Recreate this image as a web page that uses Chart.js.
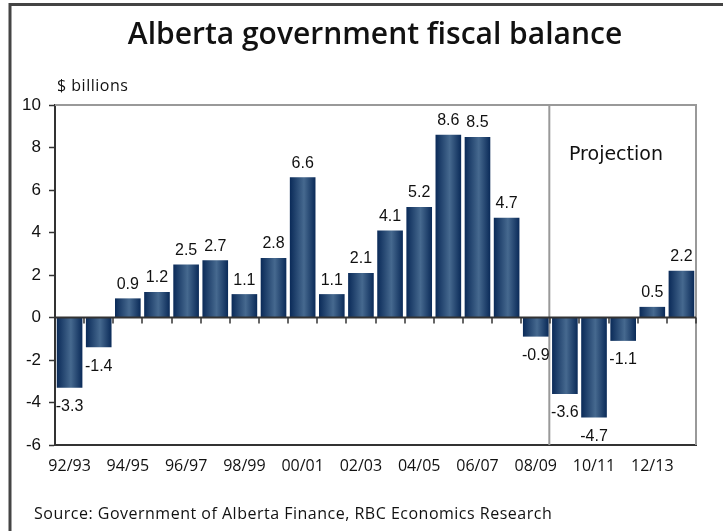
<!DOCTYPE html>
<html>
<head>
<meta charset="utf-8">
<script src="https://cdn.jsdelivr.net/npm/chart.js@4/dist/chart.umd.min.js"></script>
<style>
  html, body { margin: 0; padding: 0; background: #fff; }
  #wrap { width: 723px; height: 531px; }
</style>
</head>
<body>
<div id="wrap"><canvas id="fiscalChart" width="723" height="531"></canvas></div>
<script>
// fiscal years 1992/93 .. 2013/14
const years = ["92/93", "93/94", "94/95", "95/96", "96/97", "97/98", "98/99", "99/00",
    "00/01", "01/02", "02/03", "03/04", "04/05", "05/06", "06/07", "07/08",
    "08/09", "09/10", "10/11", "11/12", "12/13", "13/14"];

// balance, $ billions
const balance = [-3.3, -1.4, 0.9, 1.2, 2.5, 2.7, 1.1, 2.8, 6.6, 1.1, 2.1, 4.1,
    5.2, 8.6, 8.5, 4.7, -0.9, -3.6, -4.7, -1.1, 0.5, 2.2];

// projection starts at this index
const firstProjection = 17;

const titleText = "Alberta government fiscal balance";
const unitText = "$ billions";
const sourceText = "Source: Government of Alberta Finance, RBC Economics Research";

const AXIS = "#333333";
const FRAME = "#999999";
const TALL = "'Open Sans', 'DejaVu Sans', sans-serif";
const ARIAL = "'Liberation Sans', Arial, sans-serif";

// horizontal gradient, dark at the bar edges and lighter inside
function barFill(context) {
    const chart = context.chart;
    const x = chart.scales.x;
    if (!chart.chartArea || !x) return "#1f4374";
    const cx = x.getPixelForValue(context.dataIndex);
    const half = x.width / years.length * 0.88 / 2;
    const g = chart.ctx.createLinearGradient(cx - half, 0, cx + half, 0);
    g.addColorStop(0, "#0a2a58");
    g.addColorStop(0.55, "#46698f");
    g.addColorStop(1, "#0a2a58");
    return g;
}

const decorations = {
    id: "decorations",
    beforeDatasetsDraw(chart) {
        const { ctx, chartArea: a, scales: { x } } = chart;
        ctx.save();
        ctx.strokeStyle = FRAME;
        ctx.lineWidth = 2;
        // top and right edges of the plot
        ctx.beginPath();
        ctx.moveTo(a.left, a.top);
        ctx.lineTo(a.right, a.top);
        ctx.lineTo(a.right, a.bottom);
        ctx.stroke();
        // line marking the projection years
        const sx = (x.getPixelForValue(firstProjection - 1) + x.getPixelForValue(firstProjection)) / 2 - 1;
        ctx.beginPath();
        ctx.moveTo(sx, a.top);
        ctx.lineTo(sx, a.bottom);
        ctx.stroke();
        ctx.restore();
    },
    afterDatasetsDraw(chart) {
        const { ctx, chartArea: a, scales: { x, y } } = chart;
        const zero = y.getPixelForValue(0);
        const step = x.width / years.length;
        ctx.save();
        // zero line with its tick marks
        ctx.strokeStyle = AXIS;
        ctx.lineWidth = 2;
        ctx.beginPath();
        ctx.moveTo(a.left, zero);
        ctx.lineTo(a.right, zero);
        ctx.stroke();
        ctx.lineWidth = 1.5;
        for (let i = 1; i <= years.length; i++) {
            const tx = Math.round(a.left + i * step);
            ctx.beginPath();
            ctx.moveTo(tx, zero);
            ctx.lineTo(tx, zero + 6);
            ctx.stroke();
        }

        // value labels
        ctx.fillStyle = "#111";
        ctx.font = "16px " + ARIAL;
        ctx.textAlign = "center";
        chart.getDatasetMeta(0).data.forEach((bar, i) => {
            const v = balance[i];
            const label = v.toFixed(1);
            if (v >= 0) {
                ctx.textBaseline = "bottom";
                ctx.fillText(label, bar.x, bar.y - 6);
            } else {
                ctx.textBaseline = "top";
                ctx.fillText(label, bar.x, bar.y + 11);
            }
        });
        ctx.restore();
    },
    afterDraw(chart) {
        const { ctx } = chart;
        ctx.save();
        // outer frame
        ctx.strokeStyle = "#444";
        ctx.lineWidth = 3;
        ctx.beginPath();
        ctx.moveTo(10, 531);
        ctx.lineTo(10, 4.5);
        ctx.lineTo(723, 4.5);
        ctx.stroke();

        ctx.fillStyle = "#111";
        ctx.textBaseline = "alphabetic";
        ctx.textAlign = "center";
        ctx.font = "600 30px " + TALL;
        ctx.fillText(titleText, 375, 44);

        ctx.textAlign = "left";
        ctx.letterSpacing = "0.5px";
        ctx.font = "16px " + TALL;
        ctx.fillText(unitText, 57, 91);
        ctx.fillText(sourceText, 34, 519);
        ctx.letterSpacing = "0px";

        ctx.font = "19px 'DejaVu Sans', sans-serif";
        ctx.fillText("Projection", 569, 160);
        ctx.restore();
    }
};

new Chart(document.getElementById("fiscalChart"), {
    type: "bar",
    data: {
        labels: years,
        datasets: [{
            data: balance,
            backgroundColor: barFill,
            borderWidth: 0,
            barPercentage: 0.88,
            categoryPercentage: 1
        }]
    },
    options: {
        responsive: false,
        animation: false,
        layout: {
            padding: { left: 0, top: 105, right: 27, bottom: 0 }
        },
        plugins: {
            legend: { display: false },
            title: { display: false },
            tooltip: { enabled: false }
        },
        scales: {
            x: {
                grid: { display: false, drawTicks: false },
                border: { display: true, color: AXIS, width: 2 },
                ticks: {
                    autoSkip: false,
                    maxRotation: 0,
                    padding: 12,
                    color: "#111",
                    font: { family: TALL, size: 16 },
                    callback: (value, i) => (i % 2 === 0 ? years[i] : "")
                },
                afterFit: scale => { scale.height = 86; }
            },
            y: {
                min: -6,
                max: 10,
                grid: {
                    drawOnChartArea: false,
                    tickLength: 6,
                    color: AXIS,
                    tickWidth: 1.5
                },
                border: { display: true, color: AXIS, width: 2 },
                ticks: {
                    stepSize: 2,
                    padding: 8,
                    color: "#111",
                    font: { family: ARIAL, size: 17 }
                },
                afterFit: scale => { scale.width = 55; }
            }
        }
    },
    plugins: [decorations]
});
</script>
</body>
</html>
